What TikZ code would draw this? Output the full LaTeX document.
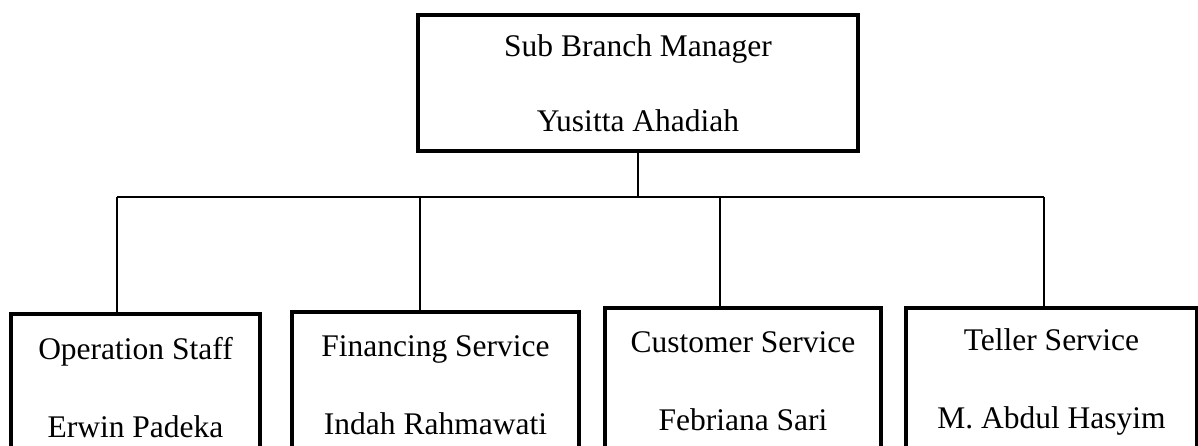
\documentclass[tikz,border=0pt]{standalone}
\usepackage{fontspec}
\setmainfont{Liberation Serif}
\usetikzlibrary{positioning}
\usetikzlibrary{calc}

\begin{document}
\begin{tikzpicture}[x=1pt,y=-1pt,
	box/.style={draw,line width=4pt,align=center,inner sep=0pt,anchor=north,
		minimum height=147pt,font=\fontsize{31.5}{78}\selectfont},
	link/.style={line width=1.5pt}]
	\useasboundingbox (0,0) rectangle (1198,446);
	\clip (0,0) rectangle (1198,446);

	% Manager
	\node[box,minimum width=440pt,minimum height=136pt,
		font=\fontsize{31.5}{75}\selectfont] (mgr) at (638,13)
		{Sub Branch Manager\\Yusitta Ahadiah};

	% Staff
	\node[box,minimum width=249pt] (ops) at (135.5,312) {Operation Staff\\Erwin Padeka};
	\node[box,minimum width=287pt] (fin) at (435.5,310) {Financing Service\\Indah Rahmawati};
	\node[box,minimum width=276pt] (cus) at (743,306) {Customer Service\\Febriana Sari};
	\node[box,minimum width=291pt] (tel) at (1051.5,306) {Teller Service\\M. Abdul Hasyim};

	% Lines
	\coordinate (bus) at (0,197);
	\draw[link] (mgr.south) -- (mgr.south |- bus);
	\foreach \n/\f in {ops/0.426,fin/0.446,cus/0.417,tel/0.474} {
		\coordinate (\n-top) at ($(\n.north west)!\f!(\n.north east)$);
		\draw[link] (\n-top) -- (\n-top |- bus);
	}
	\draw[link] (ops-top |- bus) -- (tel-top |- bus);
\end{tikzpicture}
\end{document}
